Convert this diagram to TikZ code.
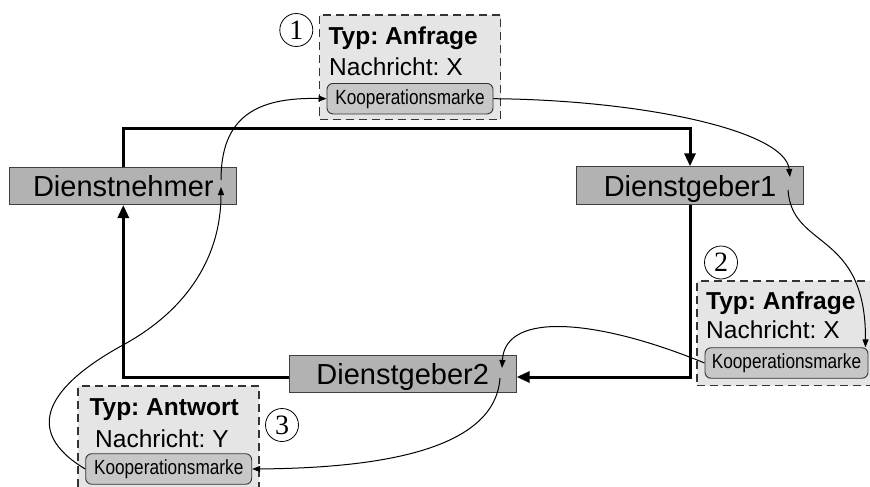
\documentclass[tikz,border=0pt]{standalone}
\usepackage{fontspec}
\setmainfont{Liberation Sans}
\newfontfamily\markfont[FakeStretch=0.84]{Liberation Sans}
\newfontfamily\numfont{Liberation Serif}
\usetikzlibrary{arrows.meta}
\frenchspacing

\begin{document}
\begin{tikzpicture}[
  x=1pt, y=-1pt,
  svc/.style={draw=black!75, line width=0.9pt, fill=black!30,
    minimum width=227pt, minimum height=37.5pt, inner sep=0pt,
    font=\fontsize{29}{34}\selectfont, text height=21pt, text depth=0pt},
  msgbox/.style={draw=black!80, dash pattern=on 8pt off 5pt, line width=1.2pt,
    fill=black!10, minimum width=181pt, minimum height=104.5pt, inner sep=0pt},
  token/.style={draw=black!80, line width=0.9pt, fill=black!22,
    rounded corners=6pt, minimum width=166pt, minimum height=30.5pt,
    inner sep=0pt, font=\markfont\fontsize{20.5}{24}\selectfont},
  msgtext/.style={anchor=base west, inner sep=0pt,
    font=\fontsize{24.5}{28}\selectfont},
  stepnum/.style={circle, draw, line width=0.8pt, minimum size=33pt,
    inner sep=0pt, font=\numfont\fontsize{28}{30}\selectfont},
  flow/.style={line width=3pt, -{Triangle[length=13pt,width=11pt]}},
  pass/.style={line width=1pt, -{Triangle[length=8pt,width=6pt]}}
]
\clip (0,0) rectangle (870,487);

% message boxes
\node[msgbox] (m1) at (410,67.25) {};
\node[msgbox] (m2) at (787.5,333.25) {};
\node[msgbox] (m3) at (168.5,438.25) {};

\node[msgtext] (t1a) at (328.3,45) {\bfseries Typ: Anfrage};
\node[msgtext] (t1b) at (329,76) {Nachricht: X};
\node[token] (k1) at (410,98.7) {Kooperationsmarke};

\node[msgtext] (t2a) at (706,309) {\bfseries Typ: Anfrage};
\node[msgtext] (t2b) at (706,338.5) {Nachricht: X};
\node[token, minimum width=163pt] (k2) at (786.5,363) {Kooperationsmarke};

\node[msgtext] (t3a) at (89.3,415.7) {\bfseries Typ: Antwort};
\node[msgtext] (t3b) at (95,447) {Nachricht: Y};
\node[token] (k3) at (168.7,469) {Kooperationsmarke};

% step numbers
\node[stepnum] (c1) at (296.3,30) {1};
\node[stepnum] (c2) at (721,262.5) {2};
\node[stepnum] (c3) at (282,425) {3};

% participants
\node[svc] (dn) at (123.3,185.8) {Dienstnehmer};
\node[svc] (dg1) at (690,185.5) {Dienstgeber1};
\node[svc] (dg2) at (402.7,374) {Dienstgeber2};

% service flow
\coordinate (topY) at (0,128);
\draw[flow] (dn.north) -- (dn.north |- topY) -| (dg1.north);
\draw[flow] (dg1.south) |- ([yshift=-3pt]dg2.east);
\draw[flow] ([yshift=-3pt]dg2.west) -| (dn.south);

% token passing points inside the participants
\coordinate (dnIn) at (221,187);
\coordinate (dnOut) at (221,180);
\coordinate (dg1In) at (790,177);
\coordinate (dg1Out) at (788,190);
\coordinate (dg2In) at (502,368);
\coordinate (dg2Out) at (500,378);

% token path
\draw[pass] (k3.west) .. controls (20,430) and (50,385) .. (123,345)
  .. controls (189,309) and (221,255) .. (dnIn);
\draw[pass] (dnOut) .. controls (221,118) and (255,97) .. (k1.west);
\draw[pass] (k1.east) .. controls (640,100) and (785,130) .. (dg1In);
\draw[pass] (dg1Out) .. controls (792,250) and (866,230) .. ([xshift=-3pt]k2.north east);
\draw[pass] (k2.west) .. controls (600,320) and (505,310) .. (dg2In);
\draw[pass] (dg2Out) .. controls (495,450) and (380,468) .. (k3.east);
\end{tikzpicture}
\end{document}
